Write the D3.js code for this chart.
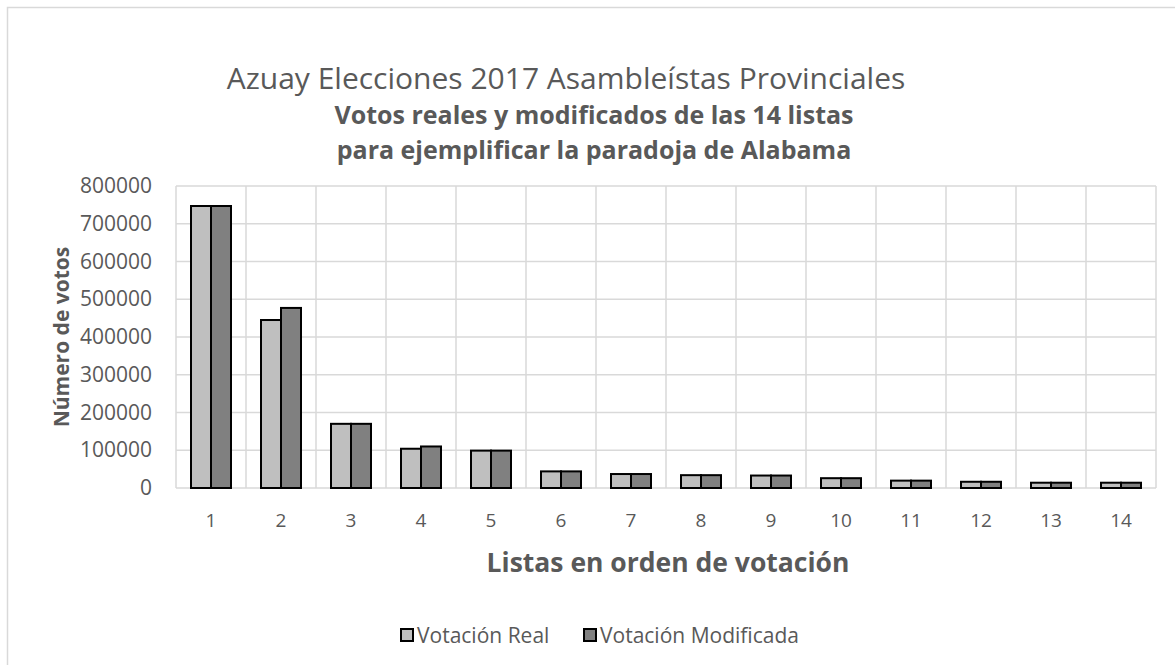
<!DOCTYPE html>
<html><head><meta charset="utf-8">
<script src="https://cdn.jsdelivr.net/npm/d3@7"></script>
<style>body{margin:0;background:#fff}svg text{font-family:"Open Sans",sans-serif}</style>
</head><body>
<svg id="c" width="1175" height="665"></svg>
<script>
const categories = ["1","2","3","4","5","6","7","8","9","10","11","12","13","14"];
const seriesNames = ["Votación Real","Votación Modificada"];
const votacionReal = [747000,445000,170000,104000,99000,44000,37000,34000,33000,26000,19500,16500,14000,14000];
const votacionModificada = [747000,477000,170000,110000,99000,44000,37000,34000,33000,26000,19500,16500,14000,14000];
const yTicks = [0,100000,200000,300000,400000,500000,600000,700000,800000];
const colors = ["#BFBFBF","#808080"];

const svg = d3.select("#c");
svg.append("rect").attr("x",7.5).attr("y",7.5).attr("width",1250).attr("height",750)
  .attr("fill","#fff").attr("stroke","#D9D9D9").attr("stroke-width",1.5);

const L=176,R=1156,T=186,B=488;
const x = d3.scaleBand().domain(categories).range([L,R]).padding(0);
const x1 = d3.scaleBand().domain(seriesNames).range([0,x.bandwidth()]).paddingInner(0).paddingOuter(0.75);
const y = d3.scaleLinear().domain([0,800000]).range([B,T]);

// gridlines
const g = svg.append("g");
g.selectAll("line.h").data(yTicks).enter().append("line")
  .attr("x1",L).attr("x2",R).attr("y1",d=>y(d)).attr("y2",d=>y(d))
  .attr("stroke","#D9D9D9").attr("stroke-width",1.5);
g.selectAll("line.v").data(categories.concat(["end"])).enter().append("line")
  .attr("x1",(d,i)=>i<categories.length?x(d):R).attr("x2",(d,i)=>i<categories.length?x(d):R)
  .attr("y1",T).attr("y2",B).attr("stroke","#D9D9D9").attr("stroke-width",1.5);

// bars
const data = categories.map((c,i)=>({c, vals:[votacionReal[i],votacionModificada[i]]}));
const grp = svg.append("g").selectAll("g").data(data).enter().append("g")
  .attr("transform",d=>`translate(${x(d.c)},0)`);
grp.selectAll("rect").data(d=>d.vals.map((v,j)=>({v,s:seriesNames[j],j}))).enter().append("rect")
  .attr("x",d=>x1(d.s)).attr("width",x1.bandwidth())
  .attr("y",d=>y(d.v)).attr("height",d=>B-y(d.v))
  .attr("fill",d=>colors[d.j]).attr("stroke","#000").attr("stroke-width",2);

// y axis
const ya = svg.append("g").attr("transform",`translate(${L},0)`)
  .call(d3.axisLeft(y).tickValues(yTicks).tickFormat(d3.format("d")).tickSize(0).tickPadding(24));
ya.select(".domain").remove();
ya.selectAll("text").attr("font-size",21).attr("fill","#595959").style("font-family","'Open Sans',sans-serif");

// x axis
const xa = svg.append("g").attr("transform",`translate(0,${B})`)
  .call(d3.axisBottom(x).tickSize(0).tickPadding(26));
xa.select(".domain").remove();
xa.selectAll("text").attr("font-size",19).attr("fill","#595959").style("font-family","'Open Sans',sans-serif");

// titles
svg.append("text").attr("x",566).attr("y",89).attr("text-anchor","middle")
  .attr("font-size",30).attr("fill","#595959").text("Azuay Elecciones 2017 Asambleístas Provinciales");
svg.append("text").attr("x",594).attr("y",124).attr("text-anchor","middle")
  .attr("font-size",25).attr("font-weight","bold").attr("fill","#595959").text("Votos reales y modificados de las 14 listas");
svg.append("text").attr("x",594).attr("y",159).attr("text-anchor","middle")
  .attr("font-size",25).attr("font-weight","bold").attr("fill","#595959").text("para ejemplificar la paradoja de Alabama");

svg.append("text").attr("transform","translate(69,337) rotate(-90)").attr("text-anchor","middle")
  .attr("font-size",21).attr("font-weight","bold").attr("fill","#595959").text("Número de votos");
svg.append("text").attr("x",668).attr("y",572).attr("text-anchor","middle")
  .attr("font-size",26.5).attr("font-weight","bold").attr("fill","#595959").text("Listas en orden de votación");

// legend
const leg = svg.append("g");
const lx = [400,583];
seriesNames.forEach((s,i)=>{
  leg.append("rect").attr("x",lx[i]+1).attr("y",629).attr("width",12).attr("height",12)
    .attr("fill",colors[i]).attr("stroke","#000").attr("stroke-width",2);
  leg.append("text").attr("x",lx[i]+17).attr("y",643).attr("font-size",21).attr("fill","#595959").text(s);
});
</script>
</body></html>
